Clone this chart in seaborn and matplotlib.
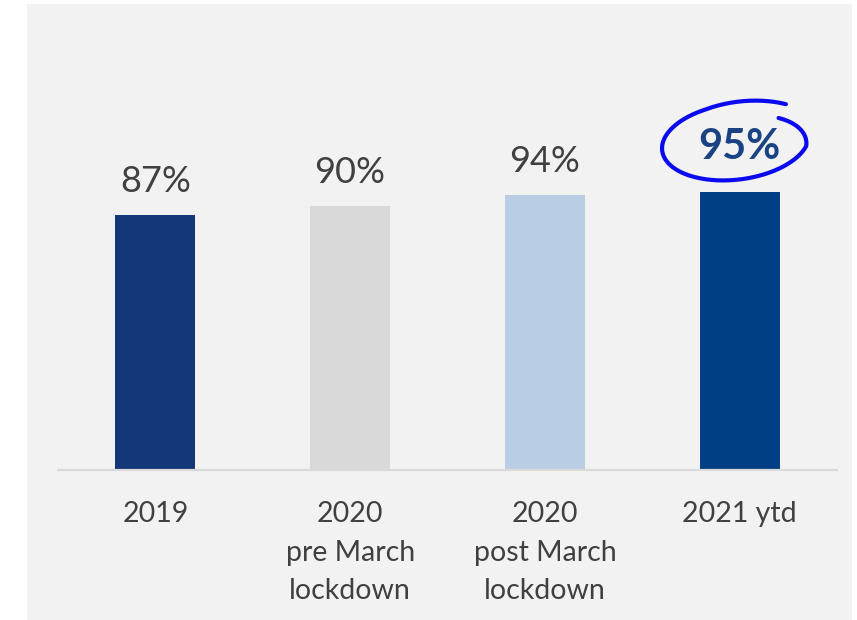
import numpy as np
import pandas as pd
import matplotlib
matplotlib.use("Agg")
import matplotlib.pyplot as plt
from matplotlib.patches import Rectangle
from matplotlib.lines import Line2D
from matplotlib.transforms import IdentityTransform
import seaborn as sns

categories = ["2019", "2020\npre March\nlockdown", "2020\npost March\nlockdown", "2021 ytd"]
values = [87, 90, 94, 95]
value_labels = ["87%", "90%", "94%", "95%"]
bar_colors = ["#14377a", "#d9d9d9", "#b9cde5", "#003e86"]

sns.set_theme(style="white")
plt.rcParams["font.family"] = ["Lato", "DejaVu Sans"]

W, H = 857, 620
fig = plt.figure(figsize=(W / 100, H / 100), dpi=100, facecolor="white")
# gray panel
fig.patches.append(Rectangle((27 / W, 0), (852 - 27) / W, (620 - 4) / H,
                             transform=fig.transFigure, facecolor="#f2f2f2",
                             edgecolor="none", zorder=-5))

ax_left, ax_right = 58, 837
ax_bottom = 470
ylim_top = 140
px_per_unit = 2.93
ax_h = ylim_top * px_per_unit
ax = fig.add_axes([ax_left / W, (H - ax_bottom) / H, (ax_right - ax_left) / W, ax_h / H])
ax.set_facecolor("none")
ax.set_zorder(2)

df = pd.DataFrame({"cat": categories, "val": values})
sns.barplot(data=df, x="cat", y="val", hue="cat", palette=bar_colors,
            legend=False, width=0.41, saturation=1, linewidth=0, ax=ax)

ax.set_xlim(-0.5, 3.5)
ax.set_ylim(0, ylim_top)
ax.set_xlabel("")
ax.set_ylabel("")
ax.set_yticks([])
for s in ["top", "right", "left"]:
    ax.spines[s].set_visible(False)
ax.spines["bottom"].set_color("#d9d9d9")
ax.spines["bottom"].set_linewidth(1.6)
ax.tick_params(axis="x", length=0, pad=22.5, labelsize=20.5, labelcolor="#404040")
for t in ax.get_xticklabels():
    t.set_linespacing(1.59)

for i, (v, lab) in enumerate(zip(values, value_labels)):
    if i == 3:
        ax.text(i, v + 8.8, lab, ha="center", va="bottom", fontsize=30,
                fontweight="bold", color="#1a4384")
    else:
        ax.text(i, v + 5.8, lab, ha="center", va="bottom", fontsize=26,
                color="#404040")

# hand-drawn ellipse around the last label (in pixel coords)
fig.canvas.draw()
cx, cy = ax.transData.transform((3, 95))
cx -= 4
cy += 328 - 278  # centre above bar top
a, b = 74, 38
rot = np.deg2rad(7)
th = np.deg2rad(np.linspace(48, 398, 300))
s = np.ones_like(th)
deg = np.rad2deg(th)
s = np.where(deg < 110, 1.10 - 0.10 * (deg - 48) / 62, s)
s = np.where(deg > 340, 1.0 - 0.22 * (deg - 340) / 58, s)
xe = a * s * np.cos(th)
ye = b * s * np.sin(th)
xr = xe * np.cos(rot) - ye * np.sin(rot) + cx
yr = xe * np.sin(rot) + ye * np.cos(rot) + cy
fig.lines.append(Line2D(xr, yr, transform=IdentityTransform(), color="#0a0af0",
                        linewidth=3.0, solid_capstyle="round", zorder=5))

fig.savefig("out.png", dpi=100, facecolor="white")
